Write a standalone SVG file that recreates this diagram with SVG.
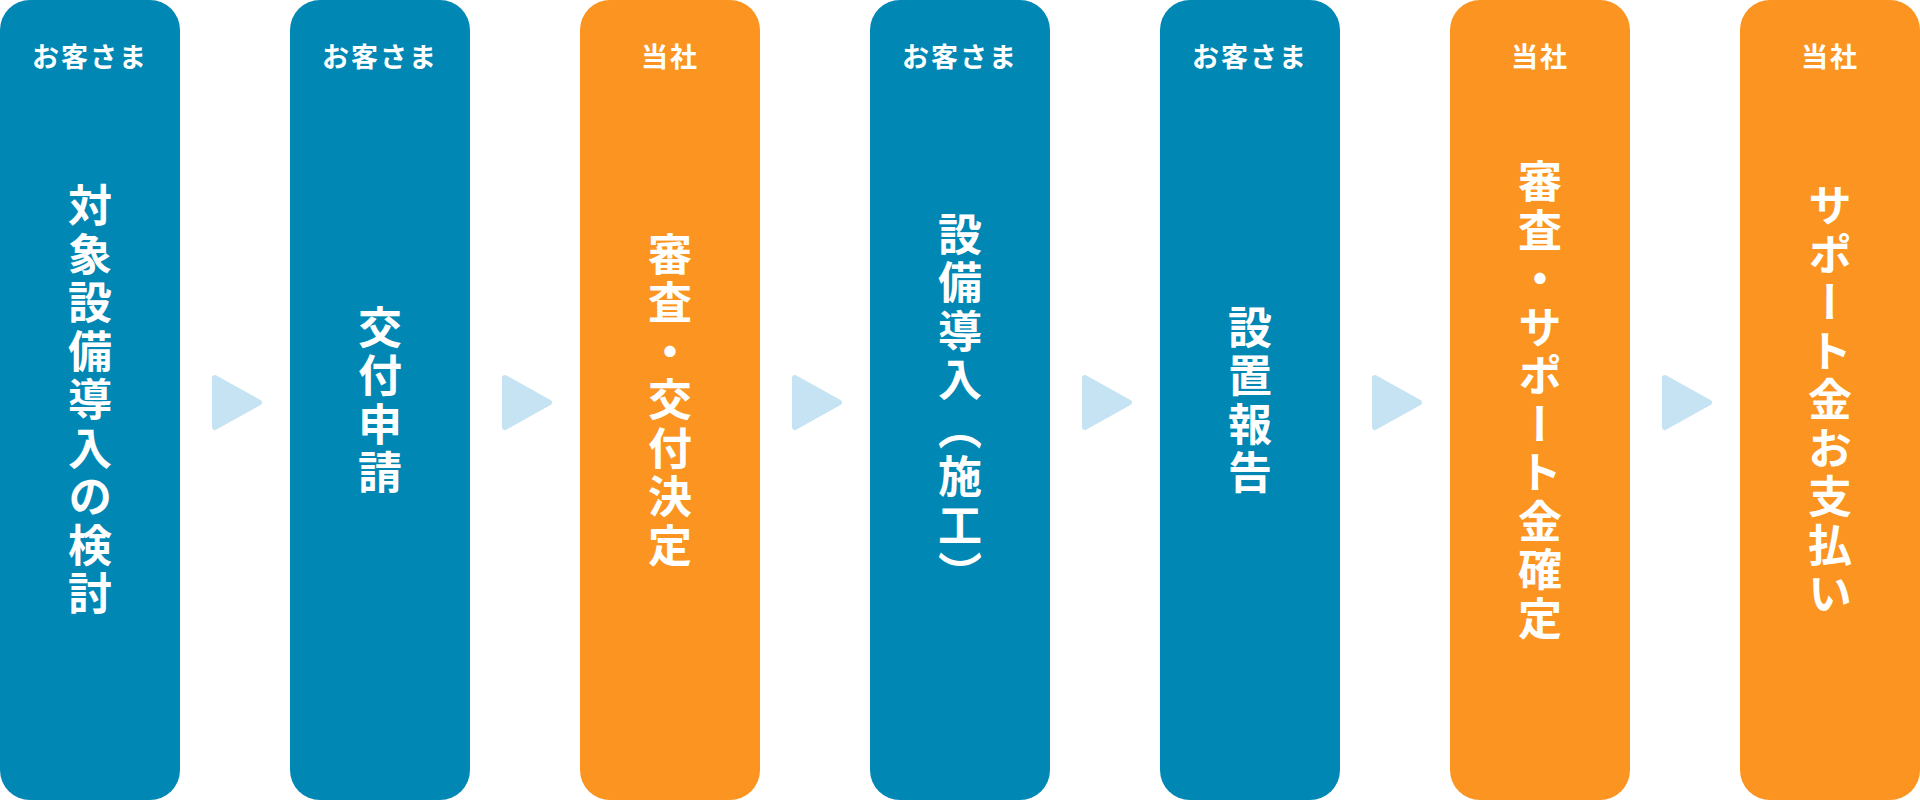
<svg xmlns="http://www.w3.org/2000/svg" width="1920" height="800" viewBox="0 0 1920 800">
<style>
.blue{fill:#0087b4}
.orange{fill:#fb9420}
.hd{font-family:"Noto Sans CJK JP","Noto Sans CJK SC",sans-serif;font-size:27px;font-weight:700;fill:#fff;text-anchor:middle;letter-spacing:2px}
.mn{font-family:"Noto Sans CJK JP","Noto Sans CJK SC",sans-serif;font-size:44px;font-weight:700;fill:#fff;text-anchor:middle;writing-mode:vertical-rl;letter-spacing:4.5px}
.arr{fill:#c5e3f2;stroke:#c5e3f2;stroke-width:6;stroke-linejoin:round}
</style>
<rect width="1920" height="800" fill="#fff"/>
<g id="step1">
<rect class="blue" x="0" y="0" width="180" height="800" rx="30"/>
<text class="hd" x="90" y="67">お客さま</text>
<text class="mn" x="90" y="402">対象設備導入の検討</text>
</g>
<g id="step2">
<rect class="blue" x="290" y="0" width="180" height="800" rx="30"/>
<text class="hd" x="380" y="67">お客さま</text>
<text class="mn" x="380" y="402">交付申請</text>
</g>
<g id="step3">
<rect class="orange" x="580" y="0" width="180" height="800" rx="30"/>
<text class="hd" x="670" y="67">当社</text>
<text class="mn" x="670" y="402">審査・交付決定</text>
</g>
<g id="step4">
<rect class="blue" x="870" y="0" width="180" height="800" rx="30"/>
<text class="hd" x="960" y="67">お客さま</text>
<text class="mn" x="960" y="406">設備導入（施工）</text>
</g>
<g id="step5">
<rect class="blue" x="1160" y="0" width="180" height="800" rx="30"/>
<text class="hd" x="1250" y="67">お客さま</text>
<text class="mn" x="1250" y="402">設置報告</text>
</g>
<g id="step6">
<rect class="orange" x="1450" y="0" width="180" height="800" rx="30"/>
<text class="hd" x="1540" y="67">当社</text>
<text class="mn" x="1540" y="402">審査・サポート金確定</text>
</g>
<g id="step7">
<rect class="orange" x="1740" y="0" width="180" height="800" rx="30"/>
<text class="hd" x="1830" y="67">当社</text>
<text class="mn" x="1830" y="402">サポート金お支払い</text>
</g>
<g id="connectors">
<polygon class="arr" points="215,378 259,402.5 215,427"/>
<polygon class="arr" points="505,378 549,402.5 505,427"/>
<polygon class="arr" points="795,378 839,402.5 795,427"/>
<polygon class="arr" points="1085,378 1129,402.5 1085,427"/>
<polygon class="arr" points="1375,378 1419,402.5 1375,427"/>
<polygon class="arr" points="1665,378 1709,402.5 1665,427"/>
</g>
</svg>
